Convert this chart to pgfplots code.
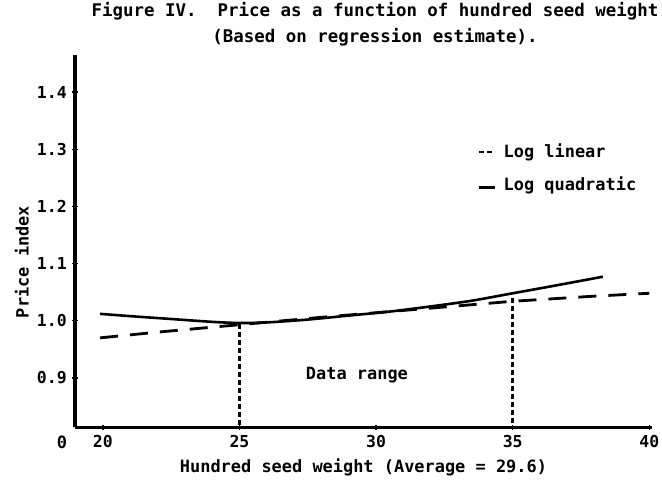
\documentclass[border=0pt]{standalone}
\usepackage{fontspec}
\setmainfont{DejaVu Sans Mono}
\usepackage{pgfplots}
\pgfplotsset{compat=1.18}

\begin{document}
\fontsize{17}{20}\selectfont\bfseries
\begin{tikzpicture}
\path[use as bounding box] (-75bp,-60bp) rectangle (587bp,427bp);
\begin{axis}[
    at={(0,0)}, anchor=south west,
    scale only axis,
    width=577bp, height=372bp,
    xmin=18.98, xmax=40.1,
    ymin=0.814, ymax=1.465,
    axis lines*=left,
    axis line style={line width=3bp},
    xtick={20,25,30,35,40},
    ytick={0.9,1.0,1.1,1.2,1.3,1.4},
    yticklabels={0.9,1.0,1.1,1.2,1.3,1.4},
    tick align=center,
    major tick length=5bp,
    tick style={line width=1.5bp, black},
    /pgf/number format/assume math mode=true,
    ticklabel style={font=\fontsize{16.5}{19}\selectfont\bfseries},
    xlabel={Hundred seed weight (Average = 29.6)},
    xlabel style={at={(axis description cs:0.50,-0.1075)}, anchor=center},
    ylabel={Price index},
    ylabel style={at={(axis description cs:-0.092,0.4435)}, anchor=center},
    title={Figure IV.\ \ Price as a function of hundred seed weight\\(Based on regression estimate).},
    title style={at={(axis description cs:0.52,1.067)}, anchor=center, align=center,
        font=\fontsize{17.5}{26}\selectfont\bfseries},
    clip=false,
    legend cell align=left,
    legend style={draw=none, fill=none, at={(axis description cs:0.692,0.772)}, anchor=north west,
        row sep=12bp, font=\fontsize{17}{20}\selectfont\bfseries,
        nodes={inner xsep=8bp}},
    legend image code/.code={\draw[#1, line width=2bp, dash pattern=on 5bp off 3bp] (0bp,0bp) -- (16bp,0bp);},
]
\addplot[black, line width=2.8bp, dash pattern=on 18bp off 12bp] coordinates {
(19.9,0.970) (22,0.980) (25,0.993) (28,1.006) (30,1.014) (32,1.022) (35,1.034) (38,1.043) (40,1.048)
};
\addlegendentry{Log linear}
\addplot[black, line width=2.6bp, smooth, legend image code/.code={\draw[black, line width=2.2bp] (0bp,-3bp) -- (16bp,-3bp);}] coordinates {
(19.9,1.012) (21,1.008) (22.5,1.003) (24,0.998) (25,0.996) (26,0.997) (27.5,1.002) (29,1.009) (30.5,1.016) (32,1.025) (33.5,1.035) (35,1.048) (36.5,1.061) (38.3,1.077)
};
\addlegendentry{Log quadratic}
\addplot[black, line width=2.6bp, dash pattern=on 5bp off 3bp, forget plot] coordinates {(25,0.994) (25,0.814)};
\addplot[black, line width=2.6bp, dash pattern=on 5bp off 3bp, forget plot] coordinates {(35,1.040) (35,0.814)};
\node at (axis cs:29.3,0.905) {Data range};
\node[anchor=north] at (axis cs:18.5,0.814) [yshift=-3bp] {0};
\end{axis}
\end{tikzpicture}
\end{document}
